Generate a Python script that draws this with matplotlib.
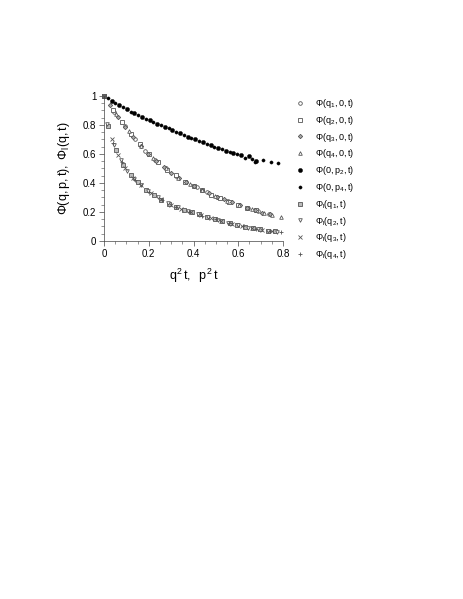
import matplotlib
matplotlib.use("Agg")
import matplotlib.pyplot as plt
from matplotlib.ticker import MultipleLocator

plt.rcParams['font.family'] = ['Liberation Sans', 'DejaVu Sans']
plt.rcParams['mathtext.fontset'] = 'custom'
plt.rcParams['mathtext.rm'] = 'Liberation Sans'
plt.rcParams['mathtext.it'] = 'Liberation Sans'
plt.rcParams['mathtext.default'] = 'regular'

# ---- data: Phi(q,0,t) ----
q1_x = [0.0, 0.046, 0.092, 0.138, 0.184, 0.230, 0.276, 0.322, 0.368, 0.414, 0.460, 0.506, 0.552, 0.598, 0.644, 0.690, 0.736]
q1_y = [1.0, 0.890, 0.790, 0.704, 0.624, 0.557, 0.500, 0.448, 0.404, 0.370, 0.335, 0.302, 0.277, 0.251, 0.228, 0.205, 0.186]
q2_x = [0.0, 0.040, 0.080, 0.120, 0.160, 0.200, 0.240, 0.280, 0.320, 0.360, 0.400, 0.440, 0.480, 0.520, 0.560, 0.600, 0.640, 0.680]
q2_y = [1.0, 0.903, 0.818, 0.738, 0.668, 0.597, 0.547, 0.493, 0.452, 0.410, 0.377, 0.352, 0.318, 0.296, 0.270, 0.251, 0.229, 0.211]
q3_x = [0.0, 0.028, 0.062, 0.096, 0.130, 0.164, 0.198, 0.232, 0.266, 0.300, 0.334, 0.368, 0.402, 0.436, 0.470, 0.504, 0.538, 0.572, 0.606, 0.640, 0.674, 0.708, 0.742]
q3_y = [1.0, 0.935, 0.857, 0.783, 0.720, 0.658, 0.603, 0.555, 0.512, 0.470, 0.436, 0.404, 0.378, 0.353, 0.328, 0.303, 0.287, 0.267, 0.248, 0.230, 0.212, 0.196, 0.184]
q4_x = [0.0, 0.055, 0.110, 0.165, 0.220, 0.275, 0.330, 0.385, 0.440, 0.495, 0.550, 0.605, 0.660, 0.715, 0.750, 0.790]
q4_y = [1.0, 0.873, 0.757, 0.657, 0.570, 0.500, 0.437, 0.390, 0.350, 0.308, 0.278, 0.247, 0.220, 0.192, 0.180, 0.165]

# ---- data: Phi(0,p,t) ----
p2_x = [0.0, 0.034, 0.068, 0.102, 0.136, 0.170, 0.204, 0.238, 0.272, 0.306, 0.340, 0.374, 0.408, 0.442, 0.476, 0.510, 0.544, 0.578, 0.612, 0.646, 0.680]
p2_y = [1.0, 0.968, 0.937, 0.907, 0.880, 0.856, 0.832, 0.808, 0.786, 0.766, 0.742, 0.720, 0.700, 0.680, 0.660, 0.640, 0.622, 0.607, 0.590, 0.585, 0.552]
p4_x = [0.017, 0.051, 0.085, 0.119, 0.153, 0.187, 0.221, 0.255, 0.289, 0.323, 0.357, 0.391, 0.425, 0.459, 0.493, 0.527, 0.561, 0.595, 0.629, 0.663, 0.676, 0.712, 0.746, 0.779]
p4_y = [0.983, 0.952, 0.922, 0.893, 0.868, 0.844, 0.820, 0.797, 0.776, 0.754, 0.731, 0.710, 0.690, 0.670, 0.650, 0.632, 0.614, 0.600, 0.572, 0.565, 0.548, 0.560, 0.547, 0.536]

# ---- data: Phi_l(q,t) ----
l1_x = [0.0, 0.018, 0.052, 0.086, 0.120, 0.154, 0.188, 0.222, 0.256, 0.290, 0.324, 0.358, 0.392, 0.426, 0.460, 0.494, 0.528, 0.562, 0.596, 0.630, 0.664, 0.698, 0.732, 0.766]
l1_y = [1.0, 0.795, 0.628, 0.525, 0.455, 0.405, 0.355, 0.318, 0.285, 0.258, 0.235, 0.215, 0.198, 0.183, 0.166, 0.152, 0.138, 0.124, 0.110, 0.098, 0.088, 0.080, 0.072, 0.066]
l2_x = [0.0, 0.015, 0.045, 0.075, 0.105, 0.135, 0.165, 0.195, 0.240, 0.285, 0.330, 0.375, 0.420, 0.465, 0.510, 0.555, 0.600, 0.645, 0.690, 0.735, 0.775]
l2_y = [1.0, 0.810, 0.660, 0.560, 0.480, 0.425, 0.385, 0.345, 0.300, 0.262, 0.232, 0.207, 0.186, 0.165, 0.146, 0.127, 0.108, 0.093, 0.081, 0.071, 0.065]
l3_x = [0.0, 0.034, 0.062, 0.096, 0.130, 0.164, 0.210, 0.255, 0.300, 0.345, 0.390, 0.435, 0.480, 0.525, 0.570, 0.615, 0.660, 0.705, 0.750]
l3_y = [1.0, 0.700, 0.595, 0.500, 0.435, 0.388, 0.330, 0.288, 0.250, 0.222, 0.198, 0.177, 0.157, 0.138, 0.120, 0.104, 0.090, 0.079, 0.070]
l4_x = [0.0, 0.040, 0.080, 0.140, 0.200, 0.260, 0.320, 0.380, 0.440, 0.500, 0.560, 0.620, 0.680, 0.740, 0.790]
l4_y = [1.0, 0.675, 0.545, 0.420, 0.340, 0.280, 0.237, 0.203, 0.175, 0.150, 0.124, 0.102, 0.085, 0.072, 0.060]

labels = [r'$\Phi(q_1,0,t)$', r'$\Phi(q_2,0,t)$', r'$\Phi(q_3,0,t)$', r'$\Phi(q_4,0,t)$',
          r'$\Phi(0,p_2,t)$', r'$\Phi(0,p_4,t)$',
          r'$\Phi_l(q_1,t)$', r'$\Phi_l(q_2,t)$', r'$\Phi_l(q_3,t)$', r'$\Phi_l(q_4,t)$']
x_ticks = [0, 0.2, 0.4, 0.6, 0.8]
y_ticks = [0, 0.2, 0.4, 0.6, 0.8, 1.0]

fig = plt.figure(figsize=(4.63, 5.99), dpi=100)
ax = fig.add_axes([104/463, 1-241/599, 179/463, 145/599])

g = '#555555'
styles = [
    dict(marker='o', ms=2.6, mfc='white', mec=g, mew=0.6),
    dict(marker='s', ms=2.4, mfc='white', mec=g, mew=0.6),
    dict(marker='D', ms=2.2, mfc='#aaaaaa', mec=g, mew=0.6),
    dict(marker='^', ms=2.6, mfc='white', mec=g, mew=0.6),
    dict(marker='o', ms=3.0, mfc='black', mec='black', mew=0.3),
    dict(marker='o', ms=2.3, mfc='black', mec='black', mew=0.3),
    dict(marker='s', ms=2.4, mfc='#bbbbbb', mec=g, mew=0.6),
    dict(marker='v', ms=2.6, mfc='white', mec=g, mew=0.6),
    dict(marker='x', ms=2.6, mec=g, mew=0.6),
    dict(marker='+', ms=3.0, mec=g, mew=0.6),
]
series = [(q1_x, q1_y), (q2_x, q2_y), (q3_x, q3_y), (q4_x, q4_y),
          (p2_x, p2_y), (p4_x, p4_y),
          (l1_x, l1_y), (l2_x, l2_y), (l3_x, l3_y), (l4_x, l4_y)]
handles = []
for (xs, ys), st, lab in zip(series, styles, labels):
    h, = ax.plot(xs, ys, linestyle='none', clip_on=False, label=lab, **st)
    handles.append(h)

ax.set_xlim(0, 0.8)
ax.set_ylim(0, 1.0)
ax.set_xticks(x_ticks)
ax.set_xticklabels(['0', '0.2', '0.4', '0.6', '0.8'])
ax.set_yticks(y_ticks)
ax.set_yticklabels(['0', '0.2', '0.4', '0.6', '0.8', '1'])
ax.xaxis.set_minor_locator(MultipleLocator(0.05))
ax.yaxis.set_minor_locator(MultipleLocator(0.05))
for s in ['top', 'right']:
    ax.spines[s].set_visible(False)
for s in ['left', 'bottom']:
    ax.spines[s].set_linewidth(0.5)
    ax.spines[s].set_color('#444444')
ax.tick_params(which='major', length=3.5, width=0.5, labelsize=7, direction='out', color='#444444', pad=2)
ax.tick_params(which='minor', length=2, width=0.4, direction='out', color='#444444')

ax.set_xlabel(r'$q^2\,t,\ \ p^2\,t$', fontsize=9, labelpad=6)
ax.set_ylabel(r'$\Phi(q,p,t),\ \Phi_l(q,t)$', fontsize=9, labelpad=8)

leg = fig.legend(handles=handles, labels=labels, loc='upper left',
                 bbox_to_anchor=(295/463, 1-97/599), frameon=False, fontsize=6.5,
                 handlelength=1.2, handletextpad=1.0, labelspacing=0.42,
                 borderaxespad=0, borderpad=0)

fig.savefig('out.png', dpi=100)
